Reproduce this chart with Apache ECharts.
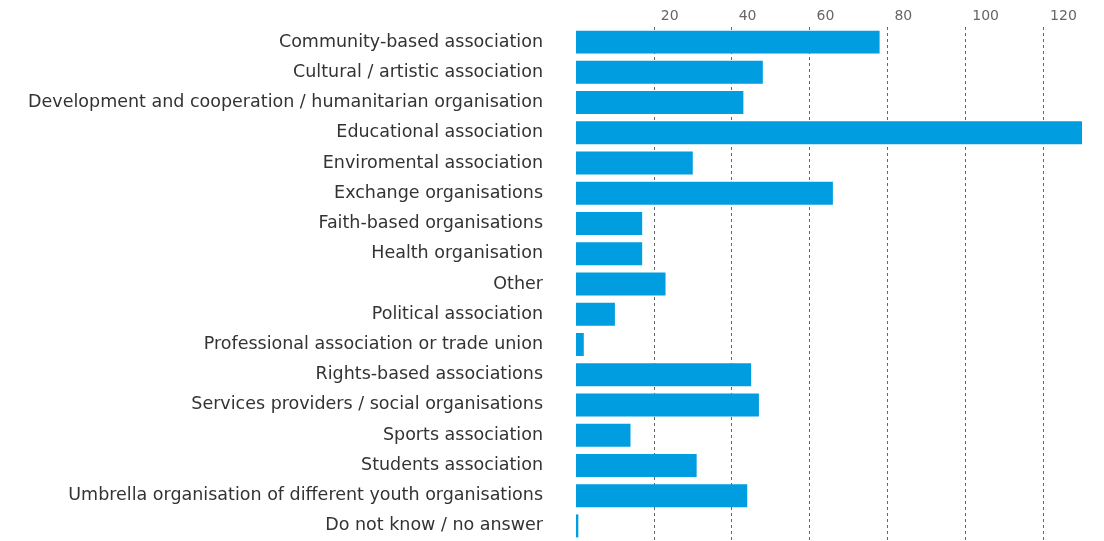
<!DOCTYPE html>
<html lang="en">
<head>
    <meta charset="UTF-8">
    <title>Organisation types</title>
    <script src="https://cdn.jsdelivr.net/npm/echarts@6/dist/echarts.min.js"></script>
</head>
<body style="margin:0;background:#fff;">
<div id="main" style="width:1104px;height:541px;"></div>
<script type="text/javascript">
    // categories, top to bottom
    var categories = [
        'Community-based association',
        'Cultural / artistic association',
        'Development and cooperation / humanitarian organisation',
        'Educational association',
        'Enviromental association',
        'Exchange organisations',
        'Faith-based organisations',
        'Health organisation',
        'Other',
        'Political association',
        'Professional association or trade union',
        'Rights-based associations',
        'Services providers / social organisations',
        'Sports association',
        'Students association',
        'Umbrella organisation of different youth organisations',
        'Do not know / no answer'
    ];
    var values = [78, 48, 43, 130, 30, 66, 17, 17, 23, 10, 2, 45, 47, 14, 31, 44, 0.6];
    var tickValues = [20, 40, 60, 80, 100, 120];

    var myChart = echarts.init(document.getElementById('main'));
    myChart.setOption({
        animation: false,
        grid: {left: 576, right: 22, top: 27, bottom: -2, containLabel: false},
        xAxis: {
            type: 'value',
            position: 'top',
            min: 0,
            max: 130,
            interval: 20,
            axisLine: {show: false},
            axisTick: {show: false},
            axisLabel: {
                color: '#666',
                fontFamily: 'DejaVu Sans',
                fontSize: 14,
                align: 'left',
                margin: 4,
                padding: [0, 0, 0, 7],
                showMinLabel: false,
                showMaxLabel: false,
                formatter: function (v) {
                    return tickValues.indexOf(v) >= 0 ? String(v) : '';
                }
            },
            splitLine: {
                show: true,
                showMinLine: false,
                showMaxLine: false,
                lineStyle: {color: '#666', type: [3, 3], width: 1}
            }
        },
        yAxis: {
            type: 'category',
            inverse: true,
            data: categories,
            axisLine: {show: false},
            axisTick: {show: false},
            axisLabel: {
                color: '#333',
                fontFamily: 'DejaVu Sans',
                fontSize: 17.5,
                margin: 33
            }
        },
        series: [{
            type: 'bar',
            data: values,
            barCategoryGap: '24%',
            itemStyle: {color: '#009ee0'}
        }]
    });
</script>
</body>
</html>
